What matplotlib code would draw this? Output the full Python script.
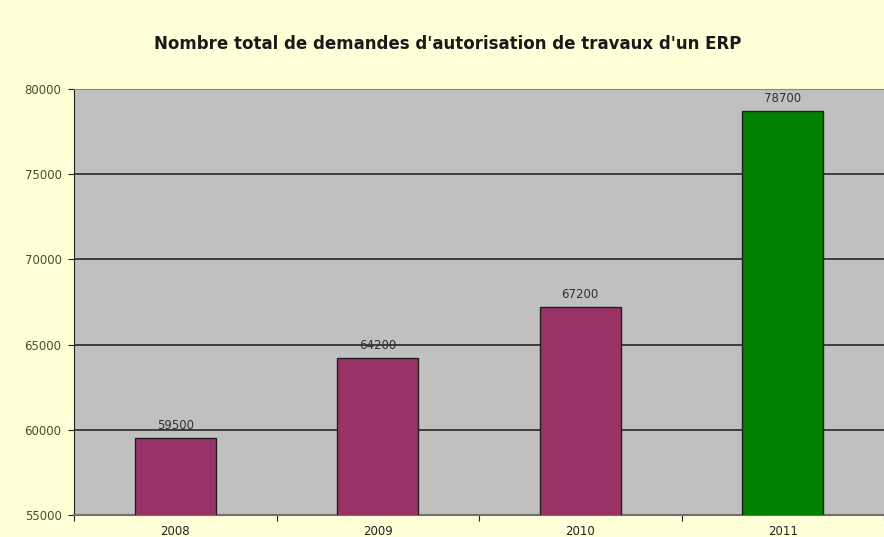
import matplotlib
matplotlib.use("Agg")
import matplotlib.pyplot as plt
import numpy as np

# data
years = ["2008", "2009", "2010", "2011"]
demandes = [59500, 64200, 67200, 78700]
bar_colors = ["#993366", "#993366", "#993366", "#008000"]

plt.rcParams['font.family'] = ['DejaVu Sans']

fig = plt.figure(figsize=(8.84, 5.37), dpi=100)
fig.patch.set_facecolor("#FFFFD8")
ax = fig.add_axes([74 / 884, 22 / 537, 810 / 884, 426 / 537])
ax.set_facecolor("#C0C0C0")

x = np.arange(len(years))
bars = ax.bar(x, demandes, width=0.4, color=bar_colors, edgecolor="#202020",
              linewidth=1.0, zorder=3)

for b, v in zip(bars, demandes):
    ax.text(b.get_x() + b.get_width() / 2, v + 380, str(v), ha="center",
            va="bottom", fontsize=8.5, color="#303030", zorder=4)

ax.set_xlim(-0.5, len(years) - 0.5)
ax.set_ylim(55000, 80000)
ax.set_yticks(range(55000, 80001, 5000))
ax.yaxis.grid(True, color="#1a1a1a", linewidth=1.1, zorder=1)
ax.set_axisbelow(True)

# category ticks on the boundaries, labels in the middle
ax.set_xticks(np.arange(-0.5, len(years) - 0.5 + 0.01, 1))
ax.set_xticklabels([])
ax.set_xticks(x, minor=True)
ax.set_xticklabels(years, minor=True, fontsize=8.5, color="#202020")
ax.tick_params(axis="x", which="minor", length=0, pad=7)
ax.tick_params(axis="x", which="major", length=4, color="#202020", direction="out")
ax.tick_params(axis="y", length=4, color="#202020", labelsize=8.5,
               labelcolor="#4a4a30", pad=5)

ax.spines["right"].set_visible(False)
ax.spines["top"].set_color("#888888")
ax.spines["bottom"].set_color("#707070")
ax.spines["bottom"].set_linewidth(1.5)
ax.spines["left"].set_color("#202020")

fig.text(0.506, 1 - 44 / 537, "Nombre total de demandes d'autorisation de travaux d'un ERP",
         ha="center", va="center", fontsize=12, fontweight="bold", color="#1a1a1a")

fig.savefig("out.png", dpi=100, facecolor=fig.get_facecolor())
